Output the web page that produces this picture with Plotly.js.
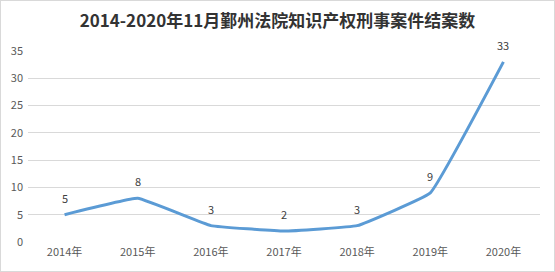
<!DOCTYPE html>
<html>
<head>
<meta charset="utf-8">
<script src="https://cdn.plot.ly/plotly-3.0.1.min.js"></script>
<style>
html,body{margin:0;padding:0;background:#fff;}
#chart{width:555px;height:272px;box-sizing:border-box;border:1px solid #d9d9d9;}
</style>
</head>
<body>
<div id="chart"></div>
<script>
const years = ['2014年','2015年','2016年','2017年','2018年','2019年','2020年'];
const cases = [5, 8, 3, 2, 3, 9, 33];
const yTicks = [0, 5, 10, 15, 20, 25, 30, 35];

const font = '"Noto Sans CJK SC", "Noto Sans", sans-serif';

const labels = years.map((yr, i) => ({
  x: yr, y: cases[i], xref: 'x', yref: 'y',
  text: String(cases[i]), showarrow: false,
  yshift: 17, font: {family: font, size: 11, color: '#404040'}
}));

Plotly.newPlot('chart', [{
  x: years,
  y: cases,
  type: 'scatter',
  mode: 'lines',
  line: {color: '#5B9BD5', width: 3, shape: 'spline', smoothing: 0.25},
  hoverinfo: 'skip'
}], {
  width: 553,
  height: 270,
  margin: {l: 27, r: 14, t: 50, b: 29},
  paper_bgcolor: '#ffffff',
  plot_bgcolor: '#ffffff',
  showlegend: false,
  annotations: labels,
  title: {
    text: '<b>2014-2020年11月鄞州法院知识产权刑事案件结案数</b>',
    font: {family: font, size: 17, color: '#333333'},
    x: 0.5, xanchor: 'center', y: 0.925, yanchor: 'middle'
  },
  xaxis: {
    type: 'category',
    range: [-0.5, years.length - 0.5],
    tickfont: {family: font, size: 11, color: '#595959'},
    showgrid: false,
    zeroline: false,
    showline: false,
    ticks: '',
    ticklabelstandoff: 2
  },
  yaxis: {
    range: [0, 35],
    tickvals: yTicks,
    tickfont: {family: font, size: 11, color: '#595959'},
    gridcolor: '#d9d9d9',
    gridwidth: 1,
    zeroline: false,
    showline: false,
    ticks: '',
    ticklabelstandoff: 4
  }
}, {displayModeBar: false, staticPlot: true});
</script>
</body>
</html>
